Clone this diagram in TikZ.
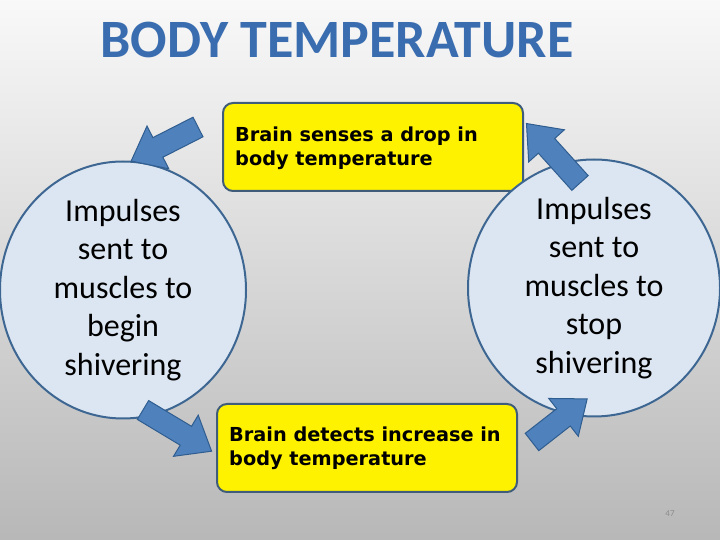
\documentclass[tikz,border=0pt]{standalone}
\usepackage{fontspec}
\setmainfont{Carlito}
\newfontfamily\verd{DejaVu Sans}
\usetikzlibrary{shapes.geometric}
\definecolor{titleblue}{HTML}{3A6DB0}
\definecolor{boxedge}{HTML}{3F5C7A}
\definecolor{ellfill}{HTML}{DCE6F2}
\definecolor{elledge}{HTML}{3D6792}
\definecolor{arrfill}{HTML}{4F81BD}
\definecolor{arredge}{HTML}{2F5D8F}
\tikzset{
  msgbox/.style={draw=boxedge, line width=2pt, fill=yellow, rounded corners=10pt, minimum width=300pt, minimum height=88pt, anchor=north west, inner sep=0pt},
  msgtext/.style={anchor=north west, align=left, font=\verd\bfseries\fontsize{19.3}{24}\selectfont, inner sep=0pt},
  bubble/.style={ellipse, draw=elledge, line width=2pt, fill=ellfill, align=center, font=\fontsize{32}{38.5}\selectfont, inner sep=0pt},
  blockarrow/.style={draw=arredge, line width=1pt, fill=arrfill, line join=miter}
}
\newcommand{\blockarr}[3]{% tail x,y ; angle ; length
  \draw[blockarrow, shift={(#1)}, rotate=#2] (0,-11) -- ({#3-30},-11) -- ({#3-30},-24) -- (#3,0) -- ({#3-30},24) -- ({#3-30},11) -- (0,11) -- cycle;}
\begin{document}
\begin{tikzpicture}[x=1pt,y=1pt]
\useasboundingbox (0,0) rectangle (720,540);
\shade[top color=white!95!gray, bottom color=black!28] (0,0) rectangle (720,540);
\node[font=\bfseries\fontsize{54}{54}\selectfont, text=titleblue] (title) at (337,500) {BODY TEMPERATURE};
\node[msgbox] (top) at (222,438) {};
\node[msgtext] (toptext) at (235,413) {Brain senses a drop in\\body temperature};
\node[msgbox] (bot) at (216,137) {};
\node[msgtext] (bottext) at (229,113) {Brain detects increase in\\body temperature};
\node[bubble, minimum width=246pt, minimum height=224pt] (left) at (123,250) {Impulses\\sent to\\muscles to\\begin\\shivering};
\node[bubble, minimum width=252pt, minimum height=218pt] (right) at (594,252) {Impulses\\sent to\\muscles to\\stop\\shivering};
\blockarr{198,413}{207}{75}
\blockarr{580,357}{132}{80}
\blockarr{143,130}{-31}{80}
\blockarr{532,98}{38}{70}
\node[text=black!45, font=\fontsize{9}{9}\selectfont] (pg) at (670,26) {47};
\end{tikzpicture}
\end{document}
